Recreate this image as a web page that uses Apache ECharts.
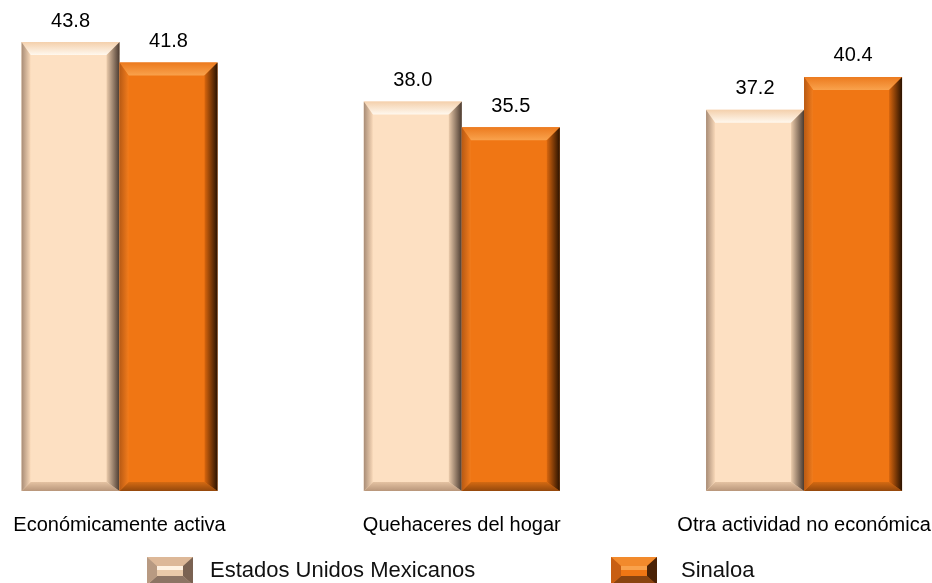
<!DOCTYPE html>
<html>
<head>
<meta charset="utf-8">
<script src="https://cdn.jsdelivr.net/npm/echarts@6/dist/echarts.min.js"></script>
<style>
  html, body { margin: 0; padding: 0; background: #fff; }
  #chart { width: 932px; height: 583px; }
</style>
</head>
<body>
<div id="chart"></div>
<script>
var categories = ['Económicamente activa', 'Quehaceres del hogar', 'Otra actividad no económica']
var seriesNames = ['Estados Unidos Mexicanos', 'Sinaloa']
var mexicoValues = [43.8, 38.0, 37.2]
var sinaloaValues = [41.8, 35.5, 40.4]

// bevel palettes
var palettes = [
  {
    body: '#FDE0C2',
    top: ['#F4D0AC', '#FFF8EE'],
    left: ['#A88C76', '#F8D8B8'],
    right: ['#EBCBAB', '#4A3A30'],
    bottom: ['#E4C2A2', '#B8967A']
  },
  {
    body: '#F07614',
    top: ['#EC7A1E', '#F9A24C'],
    left: ['#B85A14', '#F27C1C'],
    right: ['#D8660E', '#2A1200'],
    bottom: ['#D46A12', '#94480C']
  }
]

function grad(x1, y1, x2, y2, c) {
  return new echarts.graphic.LinearGradient(x1, y1, x2, y2, [
    { offset: 0, color: c[0] },
    { offset: 1, color: c[1] }
  ])
}

function makeRender(idx) {
  var p = palettes[idx]
  return function (params, api) {
    var cat = api.value(0)
    var v = api.value(1)
    var base = api.coord([cat, 0])
    var top = api.coord([cat, v])
    var cw = api.size([1, 0])[0]
    var bw = cw * 0.2863
    var x0 = idx === 0 ? base[0] - bw : base[0]
    var x1 = x0 + bw
    var y0 = top[1]
    var y1 = base[1]
    var t = 13, b = 9, l = 9, r = 13
    return {
      type: 'group',
      children: [
        { type: 'rect', shape: { x: x0, y: y0, width: bw, height: y1 - y0 }, style: { fill: p.body } },
        { type: 'polygon', shape: { points: [[x0, y0], [x1, y0], [x1 - r, y0 + t], [x0 + l, y0 + t]] }, style: { fill: grad(0, 0, 0, 1, p.top) } },
        { type: 'polygon', shape: { points: [[x0, y1], [x1, y1], [x1 - r, y1 - b], [x0 + l, y1 - b]] }, style: { fill: grad(0, 0, 0, 1, p.bottom) } },
        { type: 'polygon', shape: { points: [[x0, y0], [x0 + l, y0 + t], [x0 + l, y1 - b], [x0, y1]] }, style: { fill: grad(0, 0, 1, 0, p.left) } },
        { type: 'polygon', shape: { points: [[x1, y0], [x1 - r, y0 + t], [x1 - r, y1 - b], [x1, y1]] }, style: { fill: grad(0, 0, 1, 0, p.right) } },
        {
          type: 'text',
          style: {
            x: (x0 + x1) / 2, y: y0 - 21,
            text: v.toFixed(1),
            align: 'center', verticalAlign: 'middle',
            font: '20px "Liberation Sans", Arial, sans-serif',
            fill: '#000'
          }
        }
      ]
    }
  }
}

function legendIcon(idx) {
  var w = 46, h = 28, t = 9, b = 9, l = 10, r = 10
  var c = document.createElement('canvas')
  c.width = w; c.height = h
  var g = c.getContext('2d')
  function poly(pts, col) {
    g.beginPath()
    g.moveTo(pts[0][0], pts[0][1])
    for (var i = 1; i < pts.length; i++) g.lineTo(pts[i][0], pts[i][1])
    g.closePath()
    g.fillStyle = col
    g.fill()
  }
  g.fillStyle = idx === 0 ? '#E9C9A9' : '#F07614'
  g.fillRect(0, 0, w, h)
  poly([[0, 0], [w, 0], [w - r, t], [l, t]], idx === 0 ? '#DDB898' : '#F28A2C')
  poly([[l, t], [w - r, t], [w - r, t + 4], [l, t + 4]], idx === 0 ? '#FFF2E2' : '#F9A24C')
  poly([[0, h], [w, h], [w - r, h - b], [l, h - b]], idx === 0 ? '#8C7464' : '#8A4410')
  poly([[0, 0], [l, t], [l, h - b], [0, h]], idx === 0 ? '#B89A82' : '#C85E12')
  poly([[w, 0], [w - r, t], [w - r, h - b], [w, h]], idx === 0 ? '#7A6252' : '#4A2206')
  return 'image://' + c.toDataURL()
}

var chart = echarts.init(document.getElementById('chart'))
chart.setOption({
  animation: false,
  grid: { left: -51.6, right: -43.2, top: 40, bottom: 92, outerBoundsMode: 'none', containLabel: false },
  legend: [
    {
      left: 147, top: 557, padding: 0, itemWidth: 46, itemHeight: 28,
      data: [{ name: seriesNames[0], icon: legendIcon(0) }],
      textStyle: { fontSize: 22, color: '#111', fontFamily: 'Liberation Sans', padding: [0, 0, 0, 12] }
    },
    {
      left: 611, top: 557, padding: 0, itemWidth: 46, itemHeight: 28,
      data: [{ name: seriesNames[1], icon: legendIcon(1) }],
      textStyle: { fontSize: 22, color: '#111', fontFamily: 'Liberation Sans', padding: [0, 0, 0, 19] }
    }
  ],
  xAxis: {
    type: 'category',
    data: categories,
    axisLine: { show: false },
    axisTick: { show: false },
    axisLabel: { fontSize: 20, color: '#000', fontFamily: 'Liberation Sans', margin: 24, interval: 0 }
  },
  yAxis: {
    type: 'value', min: 0, max: 44, show: false,
    splitLine: { show: false }
  },
  series: [
    {
      name: seriesNames[0], type: 'custom',
      renderItem: makeRender(0),
      itemStyle: { color: palettes[0].body },
      encode: { x: 0, y: 1 },
      data: mexicoValues.map(function (v, i) { return [i, v] })
    },
    {
      name: seriesNames[1], type: 'custom',
      renderItem: makeRender(1),
      itemStyle: { color: palettes[1].body },
      encode: { x: 0, y: 1 },
      data: sinaloaValues.map(function (v, i) { return [i, v] })
    }
  ]
})
</script>
</body>
</html>
